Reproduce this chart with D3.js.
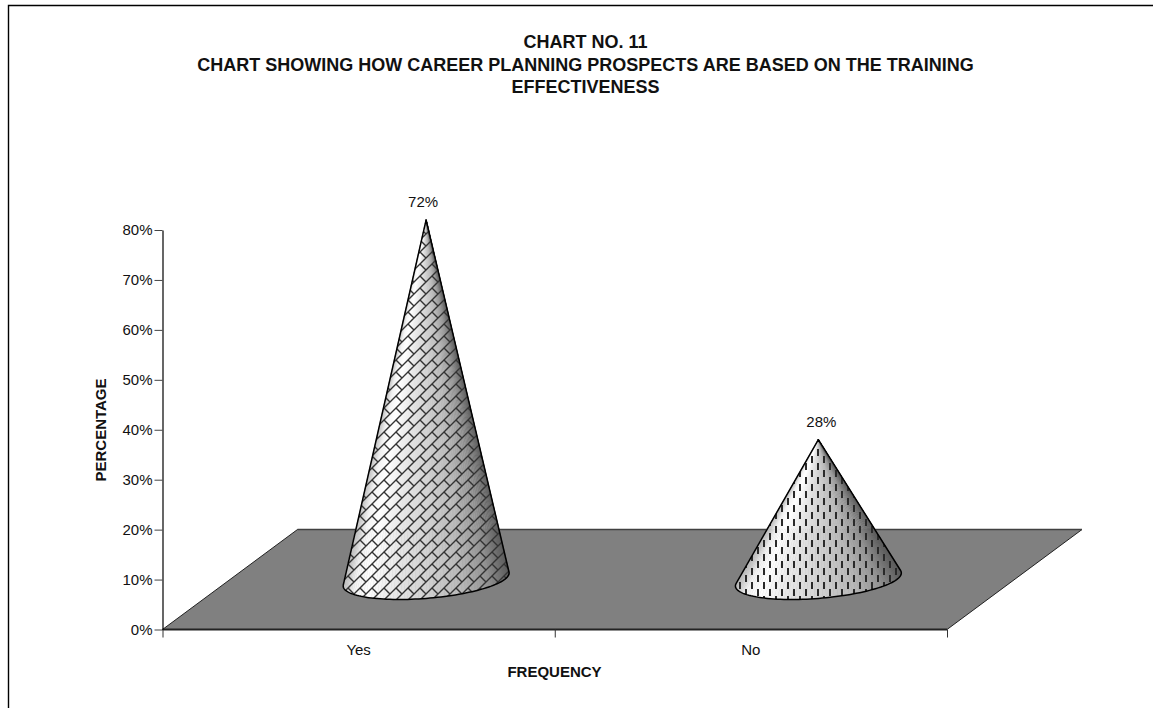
<!DOCTYPE html>
<html>
<head>
<meta charset="utf-8">
<script src="https://cdnjs.cloudflare.com/ajax/libs/d3/7.8.5/d3.min.js"></script>
<style>
  html, body { margin: 0; padding: 0; background: #fff; }
  svg { display: block; }
  text { font-family: "Liberation Sans", Arial, sans-serif; fill: #111; }
</style>
</head>
<body>
<svg id="chart" width="1153" height="708"></svg>
<script>
// Survey results
const categories = ["Yes", "No"];
const percentages = [72, 28];
const patterns = ["brick", "dash"];
const labelNudge = [-3, 3];
const titleLines = [
  "CHART NO. 11",
  "CHART SHOWING HOW CAREER PLANNING PROSPECTS ARE BASED ON THE TRAINING",
  "EFFECTIVENESS"
];
const yTicks = [0, 10, 20, 30, 40, 50, 60, 70, 80];

const svg = d3.select("#chart");

// Plot frame: the floor front edge runs x0..x1, with its rear edge shifted by the depth offset
const x0 = 162.5, x1 = 947, yBase = 629.5, yTop = 230;
const depthX = 135, depthY = 100;
const shear = depthX / depthY;

const y = d3.scaleLinear().domain([0, 80]).range([yBase, yTop]);
const x = d3.scaleBand().domain(categories).range([x0, x1]).paddingInner(0.6).paddingOuter(0.3);
const slotEdges = d3.scaleLinear().domain([0, categories.length]).range([x0, x1]);

// Outer frame, cut off by the page on the right and at the bottom
svg.append("path")
  .attr("d", "M8.5,708V5.5H1153")
  .attr("fill", "none").attr("stroke", "#000").attr("stroke-width", 1.4);

// Title
svg.append("g").selectAll("text").data(titleLines).join("text")
  .attr("x", 585.5)
  .attr("y", (d, i) => 48 + i * 22.7)
  .attr("text-anchor", "middle")
  .attr("font-size", 18)
  .attr("font-weight", "bold")
  .text(d => d);

// Fill patterns laid over the shaded cones
const defs = svg.append("defs");
const brick = defs.append("pattern").attr("id", "brick")
  .attr("patternUnits", "userSpaceOnUse").attr("width", 12).attr("height", 12);
brick.append("path")
  .attr("d", "M0,12L12,0M-3,3L3,-3M9,15L15,9M0,0L6,6")
  .attr("stroke", "#333").attr("stroke-width", 1.4).attr("fill", "none");
const dash = defs.append("pattern").attr("id", "dash")
  .attr("patternUnits", "userSpaceOnUse").attr("width", 12).attr("height", 14);
dash.append("path")
  .attr("d", "M2,1V8M8,8V15M8,-6V1")
  .attr("stroke", "#2a2a2a").attr("stroke-width", 2).attr("fill", "none");

// Floor
svg.append("path")
  .attr("d", d3.line()([[x0, yBase], [x0 + depthX, yBase - depthY], [x1 + depthX, yBase - depthY], [x1, yBase]]) + "Z")
  .attr("fill", "#808080").attr("stroke", "#222").attr("stroke-width", 1);
svg.append("path")
  .attr("d", `M${x0 + depthX},${yBase - depthY}H${x1 + depthX}`)
  .attr("stroke", "#404040").attr("stroke-width", 1.6);
svg.append("path")
  .attr("d", `M${x0},${yBase}H${x1}`)
  .attr("stroke", "#222").attr("stroke-width", 2);

// Y axis
const yAxis = svg.append("g")
  .attr("transform", `translate(${x0},0)`)
  .call(d3.axisLeft(y).tickValues(yTicks).tickFormat(d => d + "%").tickSize(8).tickSizeOuter(0));
yAxis.select(".domain").attr("stroke", "#000").attr("stroke-width", 1.2);
yAxis.selectAll(".tick line").attr("stroke", "#444").attr("stroke-width", 1);
yAxis.selectAll(".tick text")
  .attr("x", -10).attr("font-size", 15).attr("fill", "#111")
  .style("font-family", '"Liberation Sans", Arial, sans-serif');

// X axis tick marks sit on slot boundaries, labels at slot centres
const xAxis = svg.append("g")
  .attr("transform", `translate(0,${yBase})`)
  .call(d3.axisBottom(slotEdges).tickValues(d3.range(categories.length + 1)).tickFormat("").tickSize(8).tickSizeOuter(0));
xAxis.select(".domain").remove();
xAxis.selectAll(".tick line").attr("stroke", "#333").attr("stroke-width", 1);

svg.append("g").selectAll("text").data(categories).join("text")
  .attr("x", d => x(d) + x.bandwidth() / 2)
  .attr("y", 654.5)
  .attr("text-anchor", "middle")
  .attr("font-size", 15)
  .text(d => d);

// Axis titles
svg.append("text")
  .attr("x", 554.5).attr("y", 677)
  .attr("text-anchor", "middle")
  .attr("font-size", 15).attr("font-weight", "bold")
  .text("FREQUENCY");
svg.append("text")
  .attr("transform", "translate(106,430) rotate(-90)")
  .attr("text-anchor", "middle")
  .attr("font-size", 15).attr("font-weight", "bold")
  .text("PERCENTAGE");

// Horizontal shading across the cone base, sampled once per facet
const shade = d3.scaleLinear()
  .domain([0, 0.06, 0.14, 0.32, 0.5, 0.72, 0.88, 1])
  .range(["#bdbdbd", "#f2f2f2", "#ffffff", "#e6e6e6", "#d2d2d2", "#b8b8b8", "#929292", "#5c5c5c"]);

// Each cone stands on a circle lying in the sheared floor plane
categories.forEach((cat, i) => {
  const value = percentages[i];
  const rx = x.bandwidth() / 2;
  const ry = (depthY / 2.5) / 2;
  const cx = x(cat) + rx + depthX / 2;
  const cy = yBase - depthY / 2;
  const apex = [cx, cy - (y(0) - y(value))];
  const rim = t => [cx + rx * Math.cos(t) + shear * ry * Math.sin(t), cy - ry * Math.sin(t)];

  // Silhouette: the rim points seen at the extreme angles from the apex
  const samples = d3.range(0, 1440).map(k => Math.PI / 2 + k * Math.PI * 2 / 1440);
  const bearing = t => { const p = rim(t); return Math.atan2(p[0] - apex[0], p[1] - apex[1]); };
  const tLeft = samples[d3.least(d3.range(samples.length), k => bearing(samples[k]))];
  const tRight = samples[d3.greatest(d3.range(samples.length), k => bearing(samples[k]))];

  const steps = 72;
  const arc = d3.range(steps + 1).map(k => rim(tLeft + (tRight - tLeft) * k / steps));
  const xs = d3.extent(arc, p => p[0]);
  const g = svg.append("g").attr("class", "cone");

  g.selectAll("path.facet").data(d3.range(steps)).join("path")
    .attr("class", "facet")
    .attr("d", k => d3.line()([apex, arc[k], arc[k + 1]]) + "Z")
    .attr("fill", k => shade(((arc[k][0] + arc[k + 1][0]) / 2 - xs[0]) / (xs[1] - xs[0])))
    .attr("stroke", k => shade(((arc[k][0] + arc[k + 1][0]) / 2 - xs[0]) / (xs[1] - xs[0])))
    .attr("stroke-width", 0.5);

  const outline = d3.line()([apex, ...arc]) + "Z";
  g.append("path").attr("d", outline).attr("fill", `url(#${patterns[i]})`);
  g.append("path").attr("d", outline).attr("fill", "none")
    .attr("stroke", "#000").attr("stroke-width", 1.5).attr("stroke-linejoin", "round");

  g.append("text")
    .attr("x", apex[0] + labelNudge[i])
    .attr("y", apex[1] - 13)
    .attr("text-anchor", "middle")
    .attr("font-size", 15)
    .text(value + "%");
});
</script>
</body>
</html>
